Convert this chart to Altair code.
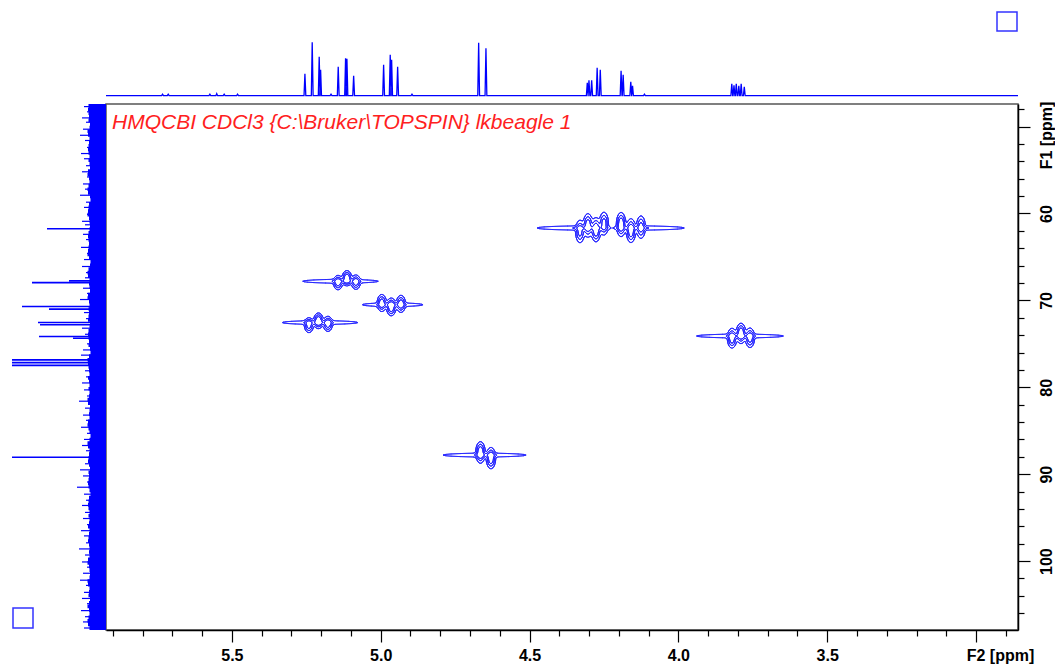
import altair as alt
import numpy as np
import pandas as pd

# ---------------- axes ----------------
H_DOMAIN = [2.859, 5.923]          # F2 (1H) ppm, drawn reversed
C_DOMAIN = [47.40, 107.93]         # F1 (13C) ppm, drawn top -> bottom
X_TICKS = [5.9, 5.8, 5.7, 5.6, 5.5, 5.4, 5.3, 5.2, 5.1, 5.0, 4.9, 4.8, 4.7, 4.6, 4.5,
           4.4, 4.3, 4.2, 4.1, 4.0, 3.9, 3.8, 3.7, 3.6, 3.5, 3.4, 3.3, 3.2, 3.1, 3.0, 2.9]
X_LABELS = [5.5, 5.0, 4.5, 4.0, 3.5]
Y_TICKS = [48, 50, 52, 54, 56, 58, 60, 62, 64, 66, 68, 70, 72, 74, 76, 78, 80, 82, 84,
           86, 88, 90, 92, 94, 96, 98, 100, 102, 104, 106]
Y_LABELS = [60, 70, 80, 90, 100]
TITLE = r"HMQCBI CDCl3 {C:\Bruker\TOPSPIN} lkbeagle 1"

# ---------------- 1H projection (top) ----------------
H1_PPM = [5.733, 5.714, 5.574, 5.551, 5.526, 5.481,
          5.2547, 5.2302, 5.2067, 5.202, 5.167,
          5.1428, 5.1181, 5.1136, 5.091,
          4.9903, 4.9681, 4.9634, 4.9432, 4.895,
          4.671, 4.6465,
          4.3061, 4.3004, 4.2913, 4.2729, 4.2624,
          4.1925, 4.1855, 4.1599, 4.154, 4.114,
          3.8206, 3.8132, 3.8055, 3.797, 3.789, 3.7786]
H1_HEIGHT = [1.5, 1.5, 1.5, 2, 1.5, 1.5,
             22, 53.5, 39, 26, 1.5,
             29, 37.5, 37, 20,
             31, 41, 36, 29, 1.5,
             53, 47.5,
             13, 15.5, 15.5, 28, 26,
             25, 21, 14, 10, 1.5,
             12, 10.5, 12, 10, 12, 9]

# ---------------- 13C projection (left) ----------------
C13_PPM = [61.75, 67.75, 67.95, 70.7, 71.0, 72.55, 72.8, 74.15, 74.35, 76.84, 77.16, 77.48, 88.05]
C13_HEIGHT = [59, 37, 74, 84, 57, 68, 66, 67, 33, 94, 94, 94, 94]
C13_NOISE = [18, 17, 19, 16, 18, 17, 15, 18, 19, 17, 16, 18, 17, 19, 16, 17, 18, 15, 17, 19,
             18, 16, 17, 18, 19, 17, 15, 16, 18, 17, 19, 18, 16, 17, 15, 18, 17, 19, 16, 18,
             17, 19, 18, 16, 15, 17, 18, 19, 17, 16, 18, 15, 17, 19, 18, 16, 17, 18, 16, 19,
             17, 15, 18, 17, 19, 16, 18, 17, 15, 16, 18, 19, 17, 18, 16, 17, 19, 15, 18, 17,
             16, 18, 19, 17, 15, 18, 16, 17, 19, 18, 17, 16, 15, 18, 19, 17, 16, 18, 17, 19,
             15, 17, 18, 16, 19, 17, 18, 15, 16, 18, 17, 19, 16, 17, 18, 15, 19, 17, 16, 18,
             17, 19, 15, 18, 16, 17, 19, 18, 16, 17, 15, 18, 19, 17, 16, 18, 17, 15, 19, 18,
             16, 17, 18, 19, 17, 16]
SPIKE_PPM = [47.7, 48.3, 49.0, 49.5, 50.3, 51.0, 51.6, 52.4, 53.1, 53.7,
             54.5, 55.2, 55.8, 56.6, 57.2, 57.9, 58.7, 59.3, 60.1, 60.9,
             61.3, 62.4, 63.0, 63.9, 64.6, 65.3, 66.1, 66.8, 67.4, 68.6,
             69.2, 69.9, 71.4, 72.1, 73.2, 73.9, 75.0, 75.7, 76.3, 78.1,
             78.8, 79.5, 80.3, 81.0, 81.6, 82.4, 83.2, 83.8, 84.6, 85.3,
             86.0, 86.7, 87.3, 88.8, 89.5, 90.2, 90.9, 91.5, 92.3, 93.0,
             93.6, 94.4, 95.1, 95.8, 96.5, 97.1, 97.9, 98.6, 99.3, 100.1,
             100.7, 101.4, 102.2, 102.8, 103.6, 104.3, 104.9, 105.7, 106.4, 107.0,
             107.7]
SPIKE_H = [22, 19, 24, 20, 23, 26, 21, 19, 25, 22,
           20, 24, 19, 23, 21, 26, 20, 22, 19, 24,
           21, 23, 20, 25, 19, 22, 24, 20, 21, 23,
           19, 26, 22, 20, 24, 21, 19, 23, 25, 21,
           20, 24, 22, 19, 27, 21, 23, 20, 25, 19,
           22, 24, 20, 21, 26, 23, 19, 29, 22, 20,
           24, 21, 23, 19, 25, 22, 20, 27, 21, 24,
           19, 23, 26, 20, 22, 24, 19, 25, 21, 23,
           22]

# ---------------- 2D cross peaks ----------------
XP_LINES = [[5.1436, 5.1136, 5.0834],           # H4 / C4
            [4.9966, 4.9647, 4.9321],           # H2 / C2
            [5.2413, 5.2093, 5.1774],           # H3 / C3
            [4.3306, 4.3038, 4.2769, 4.2500],   # H6a / C6
            [4.1925, 4.1593, 4.1257],           # H6b / C6
            [4.6650, 4.6297],                   # H1 / C1
            [3.8199, 3.7897, 3.7594]]           # H5 / C5
XP_AMPS = [[0.8, 1.0, 0.8], [0.85, 1.0, 0.85], [0.8, 1.0, 0.85], [0.75, 0.9, 1.0, 0.8],
           [1.0, 0.95, 0.75], [1.0, 0.95], [0.9, 1.0, 0.85]]
XP_DC = [[0.15, -0.35, 0.1], [-0.2, 0.25, -0.1], [0.3, -0.2, 0.15], [0.4, -0.3, 0.2, -0.5],
         [-0.4, 0.3, -0.1], [-0.3, 0.35], [0.25, -0.3, 0.2]]
XP_C = [67.8, 70.5, 72.55, 61.67, 61.67, 87.8, 74.1]
XP_SIG_C = [0.6, 0.7, 0.62, 0.95, 0.95, 0.85, 0.8]
XP_STREAK_CENTER = [5.135, 4.960, 5.204, 4.352, 4.100, 4.651, 3.793]
XP_STREAK_HALF = [0.126, 0.101, 0.126, 0.122, 0.119, 0.139, 0.145]
LEVELS = [0.12, 0.3, 0.55]
SIG_H = 0.011
STREAK_AMP = 0.3
STREAK_SIG_C = 0.25


def march(F, X, Y, lev, out):
    above = F >= lev
    s = (above[:-1, :-1].astype(int) + above[:-1, 1:] + above[1:, 1:] + above[1:, :-1])
    for j, i in np.argwhere((s > 0) & (s < 4)):
        v = [F[j, i], F[j, i + 1], F[j + 1, i + 1], F[j + 1, i]]
        p = [(X[i], Y[j]), (X[i + 1], Y[j]), (X[i + 1], Y[j + 1]), (X[i], Y[j + 1])]
        pts = []
        for k in range(4):
            a, b = v[k], v[(k + 1) % 4]
            if (a >= lev) != (b >= lev):
                t = (lev - a) / (b - a)
                pa, pb = p[k], p[(k + 1) % 4]
                pts.append((pa[0] + t * (pb[0] - pa[0]), pa[1] + t * (pb[1] - pa[1])))
        if len(pts) == 2:
            pairs = [(pts[0], pts[1])]
        elif len(pts) == 4:
            if (sum(v) / 4 >= lev) == (v[0] >= lev):
                pairs = [(pts[0], pts[1]), (pts[2], pts[3])]
            else:
                pairs = [(pts[3], pts[0]), (pts[1], pts[2])]
        else:
            pairs = []
        for (x1, y1), (x2, y2) in pairs:
            out.append((round(x1, 5), round(y1, 4), round(x2, 5), round(y2, 4)))


segs = []
for lines, amps, dcs, cy, sc_, sc, half in zip(XP_LINES, XP_AMPS, XP_DC, XP_C, XP_SIG_C,
                                               XP_STREAK_CENTER, XP_STREAK_HALF):
    ls = half / (1 - LEVELS[0] / STREAK_AMP)
    x0 = min(min(lines) - 0.07, sc - half - 0.01)
    x1 = max(max(lines) + 0.07, sc + half + 0.01)
    X = np.arange(x0, x1, 0.0027)
    Y = np.arange(cy - 4.5 * sc_, cy + 4.5 * sc_, 0.05)
    XX, YY = np.meshgrid(X, Y)
    F = np.zeros_like(XX)
    for xl, a, dc in zip(lines, amps, dcs):
        F += a * np.exp(-((XX - xl) / SIG_H) ** 2 - ((YY - cy - dc) / sc_) ** 2)
    F += STREAK_AMP * np.clip(1 - np.abs(XX - sc) / ls, 0, None) * np.exp(-((YY - cy) / STREAK_SIG_C) ** 2)
    for lev in LEVELS:
        march(F, X, Y, lev, segs)
seg_df = pd.DataFrame(segs, columns=["x", "y", "x2", "y2"])

# top projection path
pts = [(H_DOMAIN[1], 0.0)]
for p, h in sorted(zip(H1_PPM, H1_HEIGHT), reverse=True):
    pts += [(p + 0.003, 0.0), (p, h), (p - 0.003, 0.0)]
pts.append((H_DOMAIN[0], 0.0))
top_df = pd.DataFrame(pts, columns=["ppm", "h"])
top_df["i"] = range(len(top_df))

noise_df = pd.DataFrame({"ppm": np.linspace(C_DOMAIN[0], C_DOMAIN[1], len(C13_NOISE)),
                         "h": C13_NOISE})
c13_df = pd.DataFrame({"ppm": C13_PPM, "h": C13_HEIGHT, "zero": 0})
spike_df = pd.DataFrame({"ppm": SPIKE_PPM, "h": SPIKE_H, "zero": 0})

# ---------------- scales / axes ----------------
xscale = alt.Scale(domain=H_DOMAIN, reverse=True, nice=False, zero=False)
yscale = alt.Scale(domain=C_DOMAIN, reverse=True, nice=False, zero=False)
top_y = alt.Scale(domain=[0, 60], range=[-8.3, -68.3])
left_x = alt.Scale(domain=[0, 100], range=[0, -100])
FONT = "Liberation Sans"
BLUE = "#0000ff"
CONTOUR = "#2525ff"

x_label_expr = ("indexof([" + ",".join(str(v) for v in X_LABELS) +
                "], round(datum.value*10)/10) >= 0 ? format(datum.value, '.1f') : ''")
y_label_expr = ("indexof([" + ",".join(str(v) for v in Y_LABELS) +
                "], datum.value) >= 0 ? format(datum.value, 'd') : ''")

xaxis = alt.Axis(values=X_TICKS, labelExpr=x_label_expr, grid=False,
                 tickSize={"condition": {"test": "abs(datum.value*2 - round(datum.value*2)) < 0.01",
                                         "value": 12}, "value": 6},
                 tickColor="black", tickWidth=1.2, domainColor="black", domainWidth=1.5,
                 labelFont=FONT, labelFontSize=16, labelFontWeight="bold", labelColor="black",
                 labelBaseline="middle", labelPadding=13, labelOverlap=False, labelFlush=False,
                 title="F2 [ppm]", titleFont=FONT, titleFontSize=16, titleFontWeight="bold",
                 titleColor="black", titleX=894, titleY=25, titleAlign="center",
                 titleBaseline="middle")
yaxis = alt.Axis(orient="right", values=Y_TICKS, labelExpr=y_label_expr, grid=False,
                 tickSize={"condition": {"test": "datum.value % 10 == 0", "value": 12}, "value": 6},
                 tickColor="black", tickWidth=1.2, domainColor="black", domainWidth=1.5,
                 labelFont=FONT, labelFontSize=16, labelFontWeight="bold", labelColor="black",
                 labelAngle=270, labelAlign="center", labelBaseline="middle", labelPadding=16,
                 labelOverlap=False, labelFlush=False,
                 title="F1 [ppm]", titleFont=FONT, titleFontSize=16, titleFontWeight="bold",
                 titleColor="black", titleAngle=270, titleX=28, titleY=31, titleAlign="center",
                 titleBaseline="middle")

contours = alt.Chart(seg_df).mark_rule(color=CONTOUR, strokeWidth=0.9, strokeCap="round").encode(
    x=alt.X("x:Q", scale=xscale, axis=xaxis), x2="x2:Q",
    y=alt.Y("y:Q", scale=yscale, axis=yaxis), y2="y2:Q")

top = alt.Chart(top_df).mark_line(color=BLUE, strokeWidth=1.3).encode(
    x=alt.X("ppm:Q", scale=xscale, axis=None),
    y=alt.Y("h:Q", scale=top_y, axis=None),
    order="i:Q")

noise = alt.Chart(noise_df).mark_area(color=BLUE, orient="horizontal", interpolate="step").encode(
    y=alt.Y("ppm:Q", scale=yscale, axis=None),
    x=alt.X("h:Q", scale=left_x, axis=None, stack=None))

spikes = alt.Chart(spike_df).mark_rule(color=BLUE, strokeWidth=1.2).encode(
    y=alt.Y("ppm:Q", scale=yscale, axis=None),
    x=alt.X("h:Q", scale=left_x, axis=None), x2="zero:Q")

c13 = alt.Chart(c13_df).mark_rule(color=BLUE, strokeWidth=1.6).encode(
    y=alt.Y("ppm:Q", scale=yscale, axis=None),
    x=alt.X("h:Q", scale=left_x, axis=None), x2="zero:Q")

one = pd.DataFrame({"a": [0]})
sq_style = dict(fillOpacity=0, stroke="#3333ff", strokeWidth=1.5)
sq1 = alt.Chart(one).mark_rect(**sq_style).encode(
    x=alt.value(891), x2=alt.value(911), y=alt.value(-92), y2=alt.value(-73))
sq2 = alt.Chart(one).mark_rect(**sq_style).encode(
    x=alt.value(-93), x2=alt.value(-73), y=alt.value(504), y2=alt.value(524))

title = alt.Chart(one).mark_text(text=TITLE, color="#ff2020", font=FONT, fontSize=21,
                                 fontStyle="italic", align="left", baseline="alphabetic").encode(
    x=alt.value(6), y=alt.value(25))

chart = alt.layer(noise, spikes, c13, top, contours, title, sq1, sq2).resolve_scale(
    x="independent", y="independent"
).properties(
    width=912, height=526,
    autosize=alt.AutoSizeParams(type="none"),
    padding={"left": 106, "top": 104, "right": 37, "bottom": 35},
    background="white",
).configure_view(stroke="#555555", strokeWidth=1.5)

chart.save("out.html", embed_options={"renderer": "svg", "actions": False})
